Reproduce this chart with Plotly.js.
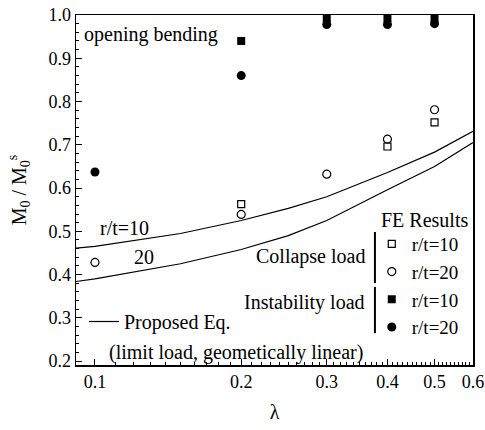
<!DOCTYPE html>
<html>
<head>
<meta charset="utf-8">
<script src="https://cdn.plot.ly/plotly-3.0.1.min.js"></script>
<style>
  html, body { margin: 0; padding: 0; background: #fff; }
  #chart { width: 485px; height: 430px; }
</style>
</head>
<body>
<div id="chart"></div>
<script>
// FE results: collapse load (open markers) and instability load (filled markers)
const collapseR10X = [0.2, 0.4, 0.5];
const collapseR10Y = [0.563, 0.696, 0.752];
const collapseR20X = [0.1, 0.2, 0.3, 0.4, 0.5];
const collapseR20Y = [0.428, 0.539, 0.632, 0.713, 0.781];
const instabR10X = [0.2, 0.3, 0.4, 0.5];
const instabR10Y = [0.94, 0.993, 0.993, 0.993];
const instabR20X = [0.1, 0.2, 0.3, 0.4, 0.5];
const instabR20Y = [0.637, 0.86, 0.978, 0.978, 0.98];

// Proposed equation (limit load, geometrically linear)
const eqX = [0.0914, 0.1, 0.15, 0.2, 0.25, 0.3, 0.4, 0.5, 0.6];
const eqR10 = [0.461, 0.465, 0.495, 0.525, 0.553, 0.58, 0.636, 0.683, 0.731];
const eqR20 = [0.384, 0.39, 0.425, 0.458, 0.49, 0.525, 0.596, 0.65, 0.705];

// Axis ticks
const xTicks = [0.1, 0.2, 0.3, 0.4, 0.5, 0.6];
const xTickText = ['0.1', '0.2', '0.3', '0.4', '0.5', '0.6'];

const FONT = 'Liberation Serif, DejaVu Serif, serif';

// minor tick positions on the log axis
const xMinor = [];
for (let v = 0.1; v <= 0.6001; v += 0.01) xMinor.push(+v.toFixed(2));

const lineStyle = { color: '#000', width: 1.2 };

const traces = [
  { x: eqX, y: eqR10, mode: 'lines', line: lineStyle, name: 'Proposed Eq.',
    legend: 'legend2', showlegend: true, hoverinfo: 'skip' },
  { x: eqX, y: eqR20, mode: 'lines', line: lineStyle, showlegend: false, hoverinfo: 'skip' },
  { x: collapseR10X, y: collapseR10Y, mode: 'markers', name: 'r/t=10', legendgroup: 'c',
    marker: { symbol: 'square-open', size: 7, color: '#000', line: { width: 1.2 } } },
  { x: collapseR20X, y: collapseR20Y, mode: 'markers', name: 'r/t=20', legendgroup: 'c',
    marker: { symbol: 'circle-open', size: 8, color: '#000', line: { width: 1.2 } } },
  { x: instabR10X, y: instabR10Y, mode: 'markers', name: 'r/t=10', legendgroup: 'i',
    marker: { symbol: 'square', size: 8, color: '#000' } },
  { x: instabR20X, y: instabR20Y, mode: 'markers', name: 'r/t=20', legendgroup: 'i',
    marker: { symbol: 'circle', size: 9, color: '#000' } }
];

const txt = (text, x, y, xanchor) => ({
  text, x, y, xref: 'paper', yref: 'paper', xanchor, yanchor: 'middle',
  showarrow: false, font: { family: FONT, size: 20, color: '#000' }
});

const layout = {
  width: 485, height: 430,
  margin: { l: 76, r: 12, t: 15, b: 65 },
  paper_bgcolor: '#fff', plot_bgcolor: '#fff',
  font: { family: FONT, size: 18, color: '#000' },
  xaxis: {
    type: 'log',
    range: [Math.log10(0.0914), Math.log10(0.6)],
    tickmode: 'array', tickvals: xTicks, ticktext: xTickText,
    ticks: 'inside', ticklen: 6, tickwidth: 1, tickcolor: '#000',
    tickfont: { family: FONT, size: 18, color: '#000' },
    minor: { tickmode: 'array', tickvals: xMinor, ticks: 'inside', ticklen: 3, tickcolor: '#000' },
    showline: true, linewidth: 1.5, linecolor: '#000', mirror: true,
    showgrid: false, zeroline: false,
    title: { text: 'λ', font: { family: FONT, size: 20 }, standoff: 14 }
  },
  yaxis: {
    range: [0.191, 1.0],
    tickmode: 'linear', tick0: 0.2, dtick: 0.1, tickformat: '.1f',
    ticks: 'inside', ticklen: 6, tickwidth: 1, tickcolor: '#000',
    tickfont: { family: FONT, size: 18, color: '#000' },
    minor: { dtick: 0.02, ticks: 'inside', ticklen: 3, tickcolor: '#000' },
    showline: true, linewidth: 1.5, linecolor: '#000', mirror: true,
    showgrid: false, zeroline: false,
    title: { text: 'M<sub>0</sub> / M<sub>0</sub><sup>s</sup>', font: { family: FONT, size: 20 } }
  },
  legend: {
    x: 0.745, y: 0.4, xanchor: 'left', yanchor: 'top',
    bgcolor: 'rgba(0,0,0,0)', borderwidth: 0,
    font: { family: FONT, size: 19, color: '#000' },
    traceorder: 'grouped', tracegroupgap: 0, itemwidth: 30
  },
  legend2: {
    x: 0.02, y: 0.18, xanchor: 'left', yanchor: 'top',
    bgcolor: 'rgba(0,0,0,0)', borderwidth: 0,
    font: { family: FONT, size: 20, color: '#000' }
  },
  annotations: [
    txt('opening bending', 0.015, 0.943, 'left'),
    txt('FE Results', 0.992, 0.414, 'right'),
    txt('Collapse load', 0.733, 0.311, 'right'),
    txt('Instability load', 0.733, 0.18, 'right'),
    txt('(limit load, geometically linear)', 0.403, 0.037, 'center'),
    txt('r/t=10', 0.055, 0.391, 'left'),
    txt('20', 0.14, 0.309, 'left')
  ],
  shapes: [
    { type: 'line', xref: 'paper', yref: 'paper', x0: 0.753, x1: 0.753, y0: 0.38, y1: 0.234,
      line: { color: '#000', width: 2 } },
    { type: 'line', xref: 'paper', yref: 'paper', x0: 0.753, x1: 0.753, y0: 0.223, y1: 0.091,
      line: { color: '#000', width: 2 } }
  ]
};

Plotly.newPlot('chart', traces, layout, { displayModeBar: false, staticPlot: true });
</script>
</body>
</html>
